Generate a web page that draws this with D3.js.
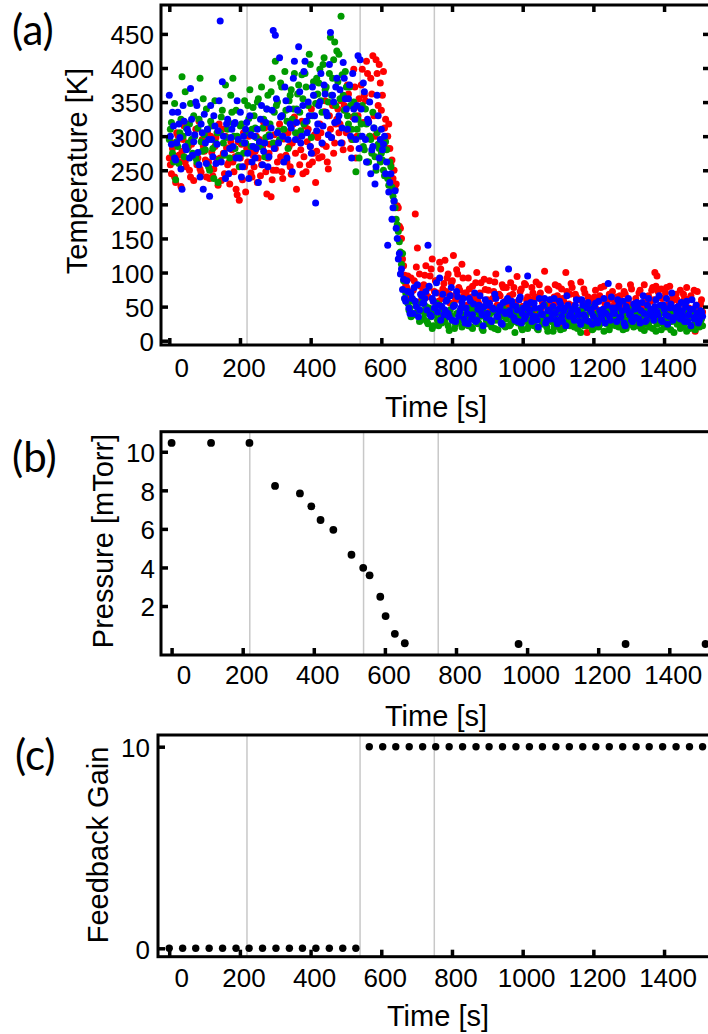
<!DOCTYPE html>
<html><head><meta charset="utf-8">
<script src="https://cdn.jsdelivr.net/npm/d3@7"></script>
<style>body{margin:0;background:#fff}svg{display:block}</style>
</head><body>
<svg id="chart" width="708" height="1034"></svg>
<script>
// ---------- DATA ----------
const times = [
0,6,12,18,24,30,36,42,48,54,
60,66,72,78,84,90,96,102,108,114,
120,126,132,138,144,150,156,162,168,174,
180,186,192,198,204,210,216,222,228,234,
240,246,252,258,264,270,276,282,288,294,
300,306,312,318,324,330,336,342,348,354,
360,366,372,378,384,390,396,402,408,414,
420,426,432,438,444,450,456,462,468,474,
480,486,492,498,504,510,516,522,528,534,
540,546,552,558,564,570,576,582,588,594,
600,606,612,618,624,630,636,642,648,654,
660,666,672,678,684,690,696,702,708,714,
720,726,732,738,744,750,756,762,768,774,
780,786,792,798,804,810,816,822,828,834,
840,846,852,858,864,870,876,882,888,894,
900,906,912,918,924,930,936,942,948,954,
960,966,972,978,984,990,996,1002,1008,1014,
1020,1026,1032,1038,1044,1050,1056,1062,1068,1074,
1080,1086,1092,1098,1104,1110,1116,1122,1128,1134,
1140,1146,1152,1158,1164,1170,1176,1182,1188,1194,
1200,1206,1212,1218,1224,1230,1236,1242,1248,1254,
1260,1266,1272,1278,1284,1290,1296,1302,1308,1314,
1320,1326,1332,1338,1344,1350,1356,1362,1368,1374,
1380,1386,1392,1398,1404,1410,1416,1422,1428,1434,
1440,1446,1452,1458,1464,1470,1476,1482,1488,1494,
1500,1506];

const timesB = [
3,9,15,21,27,33,39,45,51,57,
63,69,75,81,87,93,99,105,111,117,
123,129,135,141,147,153,159,165,171,177,
183,189,195,201,207,213,219,225,231,237,
243,249,255,261,267,273,279,285,291,297,
303,309,315,321,327,333,339,345,351,357,
363,369,375,381,387,393,399,405,411,417,
423,429,435,441,447,453,459,465,471,477,
483,489,495,501,507,513,519,525,531,537,
543,549,555,561,567,573,579,585,591,597,
603,609,615,621,627,633,639,645,651,657,
663,669,675,681,687,693,699,705,711,717,
723,729,735,741,747,753,759,765,771,777,
783,789,795,801,807,813,819,825,831,837,
843,849,855,861,867,873,879,885,891,897,
903,909,915,921,927,933,939,945,951,957,
963,969,975,981,987,993,999,1005,1011,1017,
1023,1029,1035,1041,1047,1053,1059,1065,1071,1077,
1083,1089,1095,1101,1107,1113,1119,1125,1131,1137,
1143,1149,1155,1161,1167,1173,1179,1185,1191,1197,
1203,1209,1215,1221,1227,1233,1239,1245,1251,1257,
1263,1269,1275,1281,1287,1293,1299,1305,1311,1317,
1323,1329,1335,1341,1347,1353,1359,1365,1371,1377,
1383,1389,1395,1401,1407,1413,1419,1425,1431,1437,
1443,1449,1455,1461,1467,1473,1479,1485,1491,1497,
1503,1509];

const redTemps = [
268,245,290,232,301,262,278,315,255,284,
240,296,271,258,322,247,286,265,305,238,
276,252,298,228,268,310,245,283,261,292,
262,270,214,206,288,305,218,262,278,240,
255,300,268,242,285,312,215,275,211,250,
282,262,318,248,296,272,305,255,290,328,
222,302,280,245,315,292,258,340,275,232,
298,318,270,336,285,252,310,345,290,325,
305,352,280,338,375,310,295,398,268,330,
342,398,360,410,322,385,418,300,392,405,
338,395,325,300,282,265,250,230,195,165,
120,96,78,64,92,74,186,136,98,60,
82,110,65,95,120,72,88,58,105,76,
118,92,68,85,125,60,98,74,112,66,
70,92,48,80,62,100,54,85,40,75,
60,88,45,72,98,52,66,82,38,78,
55,85,68,42,94,60,76,50,82,64,
48,78,62,86,40,70,56,102,52,74,
60,45,82,66,20,76,58,100,44,68,
78,52,64,40,86,56,70,12,62,48,
58,74,42,66,30,80,52,60,38,72,
46,64,80,50,35,68,56,42,76,52,
62,40,74,54,82,48,66,58,78,100,
95,64,76,52,70,45,80,58,36,68,
50,74,42,62,78,48,66,34,14,72,
46,60];

const redTempsB = [
258,282,240,305,272,226,295,262,318,250,
288,235,310,268,252,295,278,240,262,300,
242,285,266,318,235,275,300,258,230,280,
248,222,292,268,236,255,282,300,246,272,
278,232,295,258,320,248,268,288,236,302,
250,292,270,238,308,262,285,244,318,275,
295,258,322,270,248,310,285,262,302,278,
268,305,288,352,262,330,298,275,318,340,
318,290,345,305,362,282,328,372,300,355,
375,320,352,392,300,362,330,412,345,378,
360,312,282,318,258,238,222,198,168,150,
110,82,95,70,62,88,108,56,80,72,
96,64,78,105,58,88,70,115,62,84,
72,98,55,88,66,104,78,60,92,70,
52,76,64,42,85,58,70,48,90,56,
74,46,62,86,52,68,40,78,58,48,
66,44,78,56,38,72,50,84,60,46,
58,70,44,64,82,48,60,38,76,54,
42,64,56,80,46,62,36,72,54,84,
50,68,44,60,32,76,48,64,54,40,
64,46,58,78,42,54,36,68,50,60,
54,38,66,48,72,44,60,82,50,34,
48,70,52,36,64,56,44,74,60,80,
72,50,62,44,78,54,38,66,48,60,
56,40,68,50,32,62,46,74,52,38,
54,42];

const greenTemps = [
295,320,262,236,285,305,387,270,312,290,
348,275,300,262,325,292,355,280,310,250,
315,238,290,232,305,338,272,298,320,360,
385,282,300,255,318,275,290,345,368,310,
330,298,355,285,312,270,340,302,365,290,
410,350,295,372,310,338,282,360,325,392,
340,375,308,355,392,322,420,298,380,348,
362,398,335,415,372,350,445,385,438,425,
420,476,360,395,330,372,310,350,248,325,
300,345,280,318,262,295,335,270,305,282,
275,250,292,238,262,225,205,178,160,130,
128,62,72,45,35,58,40,52,28,44,
32,50,25,42,18,38,55,22,35,46,
28,40,15,36,52,24,30,44,20,38,
34,22,48,18,30,42,26,36,15,40,
25,38,20,45,30,16,35,50,22,32,
40,24,30,12,36,48,20,28,38,18,
30,45,22,34,16,40,26,52,20,35,
28,14,38,24,42,30,18,36,46,22,
35,20,30,44,12,28,38,22,50,26,
18,32,40,24,36,14,30,45,22,34,
28,42,20,35,16,30,48,24,38,20,
32,22,44,28,15,36,26,40,18,30,
24,38,16,30,46,20,34,28,12,36,
30,18,40,26,14,34,22,44,16,28,
20,32];

const greenTempsB = [
310,275,348,292,260,325,300,365,282,318,
295,330,268,312,385,278,302,340,255,322,
282,352,305,265,328,290,375,310,268,335,
300,338,272,315,290,352,305,326,285,342,
312,350,288,372,325,298,360,318,385,335,
345,308,378,330,395,322,352,368,340,305,
362,335,390,318,372,345,405,330,360,385,
378,352,405,368,330,392,360,412,345,380,
355,390,338,372,318,345,295,330,310,268,
318,285,340,262,300,275,312,250,288,262,
265,242,280,228,255,212,195,170,145,112,
88,70,55,48,62,38,52,45,30,58,
40,28,48,35,22,44,30,52,26,38,
35,22,45,30,18,40,28,36,48,24,
28,40,20,34,46,25,38,18,42,30,
36,24,42,18,32,48,26,38,20,44,
22,38,28,44,26,34,16,40,30,22,
40,26,36,18,46,30,24,38,14,32,
34,20,44,30,16,38,26,48,28,36,
24,40,18,32,46,22,36,28,42,16,
38,26,20,44,30,40,24,16,36,28,
22,36,44,26,40,18,30,24,46,32,
40,28,18,36,24,44,20,34,30,14,
30,44,26,20,38,28,16,42,34,24,
26,36,20,42,30,18,38,24,34,40,
28,22];

const blueTemps = [
360,288,315,265,335,298,222,322,280,305,
370,272,302,345,258,318,222,290,310,212,
295,330,260,308,469,380,275,318,245,298,
285,320,352,268,240,300,310,275,330,262,
300,282,232,325,258,290,340,270,312,455,
448,305,415,330,262,352,295,318,248,410,
320,431,290,345,410,305,330,275,360,202,
318,350,290,375,335,302,452,360,320,385,
330,290,408,355,310,375,268,340,295,418,
412,300,365,262,320,245,285,230,360,268,
310,288,245,140,232,178,205,165,120,98,
75,62,88,48,70,40,58,82,45,66,
55,72,140,38,62,48,85,52,30,68,
45,60,35,78,50,28,65,42,56,32,
48,25,58,38,70,30,52,44,22,60,
40,55,28,46,62,35,50,24,42,58,
105,38,52,30,45,60,26,48,36,95,
42,28,55,35,20,48,38,62,30,45,
32,50,40,25,58,36,44,22,52,38,
46,30,60,38,24,52,35,48,28,42,
36,55,26,44,32,62,40,84,30,48,
40,28,52,35,58,22,45,38,30,54,
34,48,26,56,40,30,62,44,36,50,
42,66,30,52,38,24,48,70,34,45,
50,32,44,28,58,38,22,46,35,40,
30,42];

const blueTempsB = [
300,335,268,290,318,252,345,285,310,268,
325,292,350,276,240,305,332,260,295,345,
270,315,288,352,262,300,238,325,282,310,
318,268,295,335,255,290,320,238,302,285,
268,310,292,345,278,320,255,300,338,282,
355,290,328,300,372,268,340,312,385,295,
338,365,300,395,322,350,285,372,330,308,
345,392,315,362,330,405,298,350,372,322,
368,312,385,340,355,300,392,325,345,282,
340,378,295,325,350,280,312,255,330,295,
280,300,262,218,245,195,220,150,128,105,
90,58,72,40,62,78,50,35,68,55,
62,45,80,36,58,70,42,92,50,38,
58,40,66,30,52,72,36,48,62,26,
40,62,32,54,28,46,66,38,50,34,
52,30,48,68,36,44,26,56,40,62,
44,58,34,50,28,64,40,32,54,46,
56,36,48,30,62,40,52,26,44,60,
40,62,30,46,54,28,48,66,36,42,
34,52,44,28,60,38,30,56,46,24,
50,30,58,38,46,26,52,36,64,42,
48,60,34,44,26,50,62,40,28,46,
56,32,44,66,28,52,38,46,30,60,
38,52,28,46,62,36,54,30,48,40,
42,56,36,50,28,46,60,32,52,26,
44,36];

const pressureTimes  = [0,111,219,291,361,393,419,455,506,539,557,587,602,628,656,976,1277,1502];
const pressureValues = [10.46,10.46,10.46,8.23,7.84,7.17,6.46,5.95,4.66,3.98,3.59,2.48,1.48,0.56,0.07,0.03,0.03,0.03];

const gainTimes  = [0,38,75,113,151,189,226,264,302,340,377,415,453,491,528,
  566,604,641,679,717,754,792,830,868,905,943,981,1019,1056,1094,1132,1170,1207,1245,1283,1321,1358,1396,1434,1472,1509];
const gainValues = [0,0,0,0,0,0,0,0,0,0,0,0,0,0,0,
  10,10,10,10,10,10,10,10,10,10,10,10,10,10,10,10,10,10,10,10,10,10,10,10,10,10];

const markerTimes   = [220,540,750];
const timeTicks     = [0,200,400,600,800,1000,1200,1400];
const tempTicks     = [0,50,100,150,200,250,300,350,400,450];
const pressureTicks = [2,4,6,8,10];
const gainTicks     = [0,10];

// ---------- DRAWING ----------
const svg = d3.select('#chart');
const FONT = '"Liberation Sans", Arial, sans-serif';

function styleAxis(sel, fs){
  sel.select('.domain').remove();
  sel.selectAll('.tick line').attr('stroke','#000').attr('stroke-width',3.5);
  sel.attr('font-family',FONT).attr('font-size',fs);
  sel.selectAll('.tick text').attr('fill','#000');
}

function drawPanel(o){
  const x = d3.scaleLinear().domain(o.xDomain).range([o.left,o.right]);
  const y = d3.scaleLinear().domain(o.yDomain).range([o.bottom,o.top]);
  const g = svg.append('g');

  g.selectAll('line.marker').data(markerTimes).join('line')
    .attr('class','marker')
    .attr('x1',d=>x(d)).attr('x2',d=>x(d))
    .attr('y1',o.top).attr('y2',o.bottom)
    .attr('stroke','#c8c8c8').attr('stroke-width',1.5);

  o.series.forEach(s=>{
    g.append('g').selectAll('circle')
      .data(s.t.map((t,i)=>[t,s.v[i]]))
      .join('circle')
      .attr('cx',d=>x(d[0])).attr('cy',d=>y(d[1]))
      .attr('r',s.r).attr('fill',s.color);
  });

  g.append('rect')
    .attr('x',o.left).attr('y',o.top)
    .attr('width',o.right-o.left).attr('height',o.bottom-o.top)
    .attr('fill','none').attr('stroke','#000').attr('stroke-width',3);

  const bx = g.append('g').attr('transform',`translate(0,${o.bottom})`)
    .call(d3.axisBottom(x).tickValues(timeTicks).tickSizeInner(-7).tickSizeOuter(0)
      .tickPadding(o.xPad).tickFormat(d3.format('d')));
  styleAxis(bx, 26);
  bx.selectAll('.tick text').attr('dx', d => d===0 ? 12 : 3.5);

  const ly = g.append('g').attr('transform',`translate(${o.left},0)`)
    .call(d3.axisLeft(y).tickValues(o.yTicks).tickSizeInner(-7).tickSizeOuter(0)
      .tickPadding(o.yPad).tickFormat(d3.format('d')));
  styleAxis(ly, 26);
  ly.selectAll('.tick text').attr('dy','0.38em');

  if (o.allSides){
    const tx = g.append('g').attr('transform',`translate(0,${o.top})`)
      .call(d3.axisTop(x).tickValues(timeTicks).tickSizeInner(-7).tickSizeOuter(0).tickFormat(''));
    styleAxis(tx, 26);
    const ry = g.append('g').attr('transform',`translate(${o.right},0)`)
      .call(d3.axisRight(y).tickValues(o.yTicks).tickSizeInner(-7).tickSizeOuter(0).tickFormat(''));
    styleAxis(ry, 26);
  }

  g.append('text').attr('x',o.xTitle[0]).attr('y',o.xTitle[1])
    .attr('text-anchor','middle').attr('font-family',FONT).attr('font-size',29)
    .text('Time [s]');
  g.append('text')
    .attr('transform',`translate(${o.yTitle[0]},${o.yTitle[1]}) rotate(-90)`)
    .attr('text-anchor','middle').attr('font-family',FONT).attr('font-size',29)
    .text(o.yLabel);
  g.append('text').attr('x',o.tag[0]).attr('y',o.tag[1])
    .attr('font-family','Lato, "Open Sans", sans-serif').attr('font-size',42)
    .text(o.tagText);
}

drawPanel({
  left:161, right:710, top:5, bottom:345,
  xDomain:[-23.5,1530], yDomain:[-6.3,492.4],
  yTicks:tempTicks, xPad:14, yPad:7, allSides:true,
  series:[
    {t:times,  v:redTemps,    color:'#ff0000', r:3.5},
    {t:timesB, v:redTempsB,   color:'#ff0000', r:3.5},
    {t:times,  v:greenTemps,  color:'#009a00', r:3.5},
    {t:timesB, v:greenTempsB, color:'#009a00', r:3.5},
    {t:times,  v:blueTemps,   color:'#0000ff', r:3.5},
    {t:timesB, v:blueTempsB,  color:'#0000ff', r:3.5}
  ],
  xTitle:[436,417], yTitle:[87,171], yLabel:'Temperature [K]',
  tag:[12,45], tagText:'(a)'
});

drawPanel({
  left:161, right:710, top:431.7, bottom:655,
  xDomain:[-29.8,1514.5], yDomain:[-0.54,11.04],
  yTicks:pressureTicks, xPad:11, yPad:6, allSides:false,
  series:[{t:pressureTimes, v:pressureValues, color:'#000', r:3.9}],
  xTitle:[436,726], yTitle:[113,541], yLabel:'Pressure [mTorr]',
  tag:[12,472], tagText:'(b)'
});

drawPanel({
  left:158, right:710, top:735, bottom:956.7,
  xDomain:[-31.7,1530], yDomain:[-0.417,10.58],
  yTicks:gainTicks, xPad:12, yPad:8, allSides:false,
  series:[{t:gainTimes, v:gainValues, color:'#000', r:3.7}],
  xTitle:[438,1026], yTitle:[108,845], yLabel:'Feedback Gain',
  tag:[15,770], tagText:'(c)'
});
</script>
</body></html>
